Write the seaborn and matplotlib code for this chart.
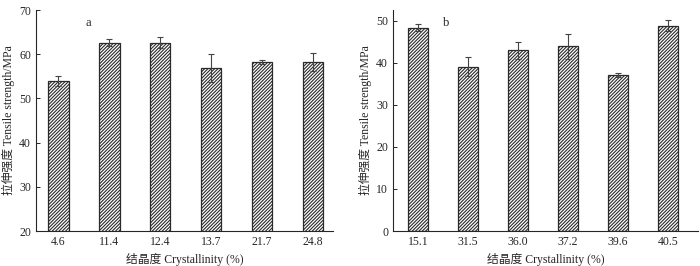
import matplotlib
matplotlib.use('Agg')
import matplotlib.pyplot as plt
import seaborn as sns
import numpy as np
import pandas as pd

sns.set_style('ticks')
plt.rcParams['font.family'] = ['Liberation Serif', 'Noto Sans CJK SC']
plt.rcParams['hatch.linewidth'] = 0.8
plt.rcParams['axes.unicode_minus'] = False

# panel a
cryst_a = ['4.6', '11.4', '12.4', '13.7', '21.7', '24.8']
strength_a = [54.0, 62.6, 62.6, 56.8, 58.2, 58.3]
err_a = [1.1, 0.8, 1.3, 3.2, 0.5, 2.0]

# panel b
cryst_b = ['15.1', '31.5', '36.0', '37.2', '39.6', '40.5']
strength_b = [48.4, 39.1, 43.0, 44.0, 37.1, 48.9]
err_b = [0.8, 2.2, 2.0, 3.0, 0.4, 1.3]

xlabel = '结晶度 Crystallinity (%)'
ylabel = '拉伸强度 Tensile strength/MPa'


def hatched_bars(ax, labels, values, errs, ylim, yticks, xlim, letter):
    df = pd.DataFrame({'cryst': labels, 'strength': values})
    sns.barplot(data=df, x='cryst', y='strength', ax=ax, color='white',
                edgecolor='#2a2a2a', linewidth=0.9, width=0.4,
                errorbar=None)
    for patch in ax.patches:
        patch.set_hatch('//////////')
    ax.errorbar(np.arange(len(labels)), values, yerr=errs, fmt='none',
                ecolor='#444444', elinewidth=0.8, capsize=2.5,
                capthick=0.8)
    ax.set_ylim(*ylim)
    ax.set_yticks(yticks)
    ax.set_xlim(*xlim)
    ax.set_xlabel(xlabel, fontsize=8.5, labelpad=4)
    ax.set_ylabel(ylabel, fontsize=8.5, labelpad=3)
    ax.tick_params(direction='in', labelsize=8.5, length=3, width=0.7)
    for side in ['top', 'right']:
        ax.spines[side].set_visible(False)
    for side in ['left', 'bottom']:
        ax.spines[side].set_linewidth(0.8)
    ax.text(0.165, 0.97, letter, transform=ax.transAxes, fontsize=9,
            va='top', ha='left')


fig = plt.figure(figsize=(7, 2.66), dpi=100)
ax1 = fig.add_axes([36 / 700, 35 / 266, 297 / 700, 221 / 266])
ax2 = fig.add_axes([393 / 700, 35 / 266, 305 / 700, 221 / 266])

hatched_bars(ax1, cryst_a, strength_a, err_a, (20, 70),
             range(20, 71, 10), (-0.44, 5.39), 'a')
hatched_bars(ax2, cryst_b, strength_b, err_b, (0, 52.6),
             range(0, 51, 10), (-0.5, 5.6), 'b')

fig.savefig('out.png', dpi=100)
plt.close('all')
